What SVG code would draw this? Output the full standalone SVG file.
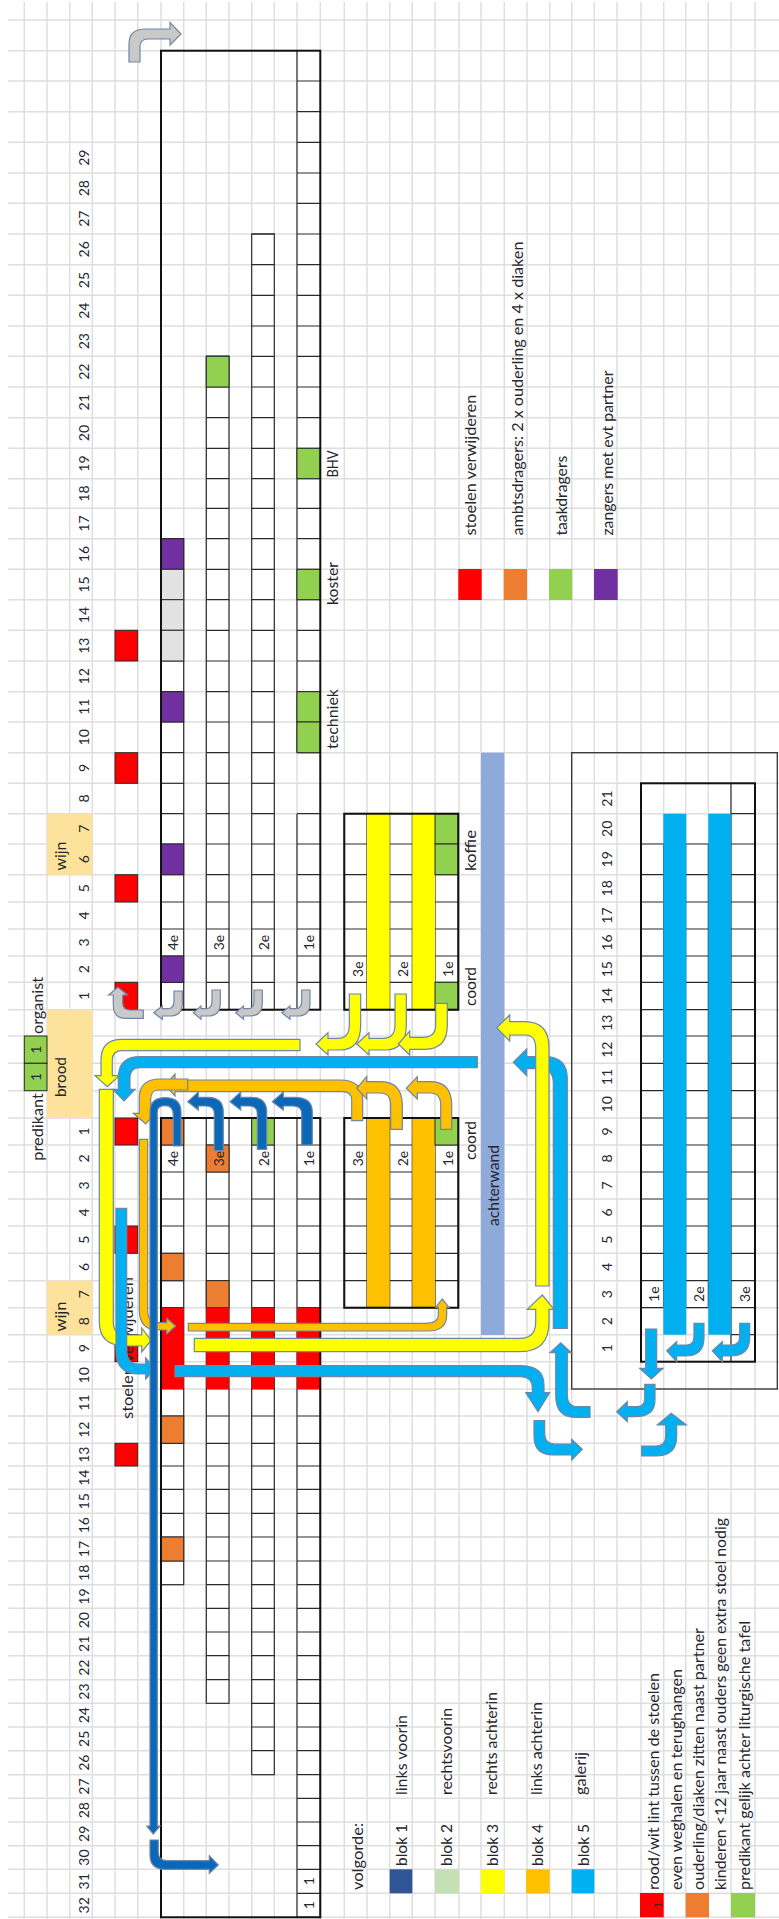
<svg xmlns="http://www.w3.org/2000/svg" width="779" height="1919" viewBox="0 0 779 1919">
<style>
text{font-family:"Lato","Carlito","Liberation Sans",sans-serif;font-size:15px;fill:#26262e}
.n{font-size:14px}
.m{text-anchor:middle}
.grid{fill:none;stroke:#dedede;stroke-width:1.5}
.ln{fill:none;stroke:#2a2a2a;stroke-width:1.2}
.box{fill:#fff;stroke:#2a2a2a;stroke-width:1.2}
.c{stroke:#2a2a2a;stroke-width:1}
.out{fill:none;stroke:#111;stroke-width:2}
.red{fill:#ff0000}.org{fill:#ed7d31}.grn{fill:#92d050}.pur{fill:#7030a0}.gry{fill:#e2e2e2}.pch{fill:#fde29b}
.ar{stroke:#6f86a6;stroke-width:1.2}
.ag{fill:#c9c9c9}.ay{fill:#ffff00}.ab{fill:#00b0f0}.ad{fill:#0b68b8}.ao{fill:#ffc000}
</style>
<defs>
<path id="ta" d="M0 81h23M0 111.7h23M0 142.3h23M0 173h23M0 203.3h23"/>
<path id="tb" d="M0 234h23M0 264.7h23M0 295.3h23M0 326h23"/>
<path id="tc" d="M0 356.3h23M0 387h23M0 417.7h23M0 448.3h23M0 478.7h23M0 508.3h23"/>
<path id="td" d="M0 538.7h23M0 569.3h23M0 599.7h23M0 630.3h23M0 661h23M0 691.7h23M0 722h23M0 752.7h23"/>
<path id="tx" d="M0 783.3h23"/>
<path id="te" d="M0 813.7h23M0 844h23M0 874.7h23M0 902h23M0 929h23M0 956h23M0 982.3h23"/>
<path id="rb" d="M0 844h23M0 874.7h23M0 902h23M0 929h23M0 956h23M0 982.3h23"/>
<path id="rc" d="M0 1145h23M0 1172h23M0 1199h23M0 1226h23M0 1253.3h23M0 1280.7h23"/>
<path id="ba" d="M0 1145h23M0 1172h23M0 1199h23M0 1226h23M0 1253.3h23M0 1280.7h23M0 1307.7h23M0 1334.7h23M0 1361.7h23M0 1389h23M0 1416h23M0 1443.3h23M0 1466h23M0 1489.3h23M0 1513.3h23M0 1537h23M0 1561h23"/>
<path id="bb" d="M0 1584.7h23M0 1608.3h23M0 1632h23M0 1655.7h23M0 1679.7h23"/>
<path id="bc" d="M0 1703.3h23M0 1727h23M0 1750.7h23"/>
<path id="bd" d="M0 1774.7h23M0 1798.3h23M0 1822h23M0 1845.7h23M0 1869.3h23M0 1893.3h23"/>
<path id="ga" d="M0 844h23M0 874.7h23M0 902h23M0 929h23M0 956h23M0 982.3h23M0 1009.7h23M0 1036h23M0 1063.3h23M0 1090.7h23M0 1118h23M0 1145h23M0 1172h23M0 1199h23M0 1226h23M0 1253.3h23M0 1280.7h23"/>
</defs>

<path id="raster" class="grid" d="M24.3 2V1919M47 2V1919M69.7 2V1919M92.3 2V1919M115 2V1919M137.7 2V1919M161 2V1919M183.7 2V1919M206.3 2V1919M229 2V1919M251.7 2V1919M274.3 2V1919M297 2V1919M320.3 2V1919M344.3 2V1919M367 2V1919M389.7 2V1919M412.3 2V1919M435 2V1919M459 2V1919M481 2V1919M504.3 2V1919M527 2V1919M549.7 2V1919M571.7 2V1919M594.3 2V1919M617 2V1919M641 2V1919M663.7 2V1919M685.7 2V1919M708.3 2V1919M731 2V1919M755 2V1919
M8 20H779M8 50.7H779M8 81H779M8 111.7H779M8 142.3H779M8 173H779M8 203.3H779M8 234H779M8 264.7H779M8 295.3H779M8 326H779M8 356.3H779M8 387H779M8 417.7H779M8 448.3H779M8 478.7H779M8 508.3H779M8 538.7H779M8 569.3H779M8 599.7H779M8 630.3H779M8 661H779M8 691.7H779M8 722H779M8 752.7H779M8 783.3H779M8 813.7H779M8 844H779M8 874.7H779M8 902H779M8 929H779M8 956H779M8 982.3H779M8 1009.7H779M8 1036H779M8 1063.3H779M8 1090.7H779M8 1118H779M8 1145H779M8 1172H779M8 1199H779M8 1226H779M8 1253.3H779M8 1280.7H779M8 1307.7H779M8 1334.7H779M8 1361.7H779M8 1389H779M8 1416H779M8 1443.3H779M8 1466H779M8 1489.3H779M8 1513.3H779M8 1537H779M8 1561H779M8 1584.7H779M8 1608.3H779M8 1632H779M8 1655.7H779M8 1679.7H779M8 1703.3H779M8 1727H779M8 1750.7H779M8 1774.7H779M8 1798.3H779M8 1822H779M8 1845.7H779M8 1869.3H779M8 1893.3H779M8 1917.3H779"/>

<g id="labels-voorin">
<rect class="pch" x="47" y="813.7" width="45.3" height="61"/>
<rect class="pch" x="47" y="1009.7" width="45.3" height="108.3"/>
<rect class="pch" x="47" y="1280.7" width="45.3" height="54"/>
<text class="m" transform="translate(66,856) rotate(-90)" textLength="29" lengthAdjust="spacingAndGlyphs">wijn</text>
<text class="m" transform="translate(66,1077) rotate(-90)" textLength="40" lengthAdjust="spacingAndGlyphs">brood</text>
<text class="m" transform="translate(66,1316.5) rotate(-90)" textLength="30" lengthAdjust="spacingAndGlyphs">wijn</text>
<rect class="grn c" x="24.3" y="1036" width="22.7" height="27.3"/>
<rect class="grn c" x="24.3" y="1063.3" width="22.7" height="27.4"/>
<text class="m n" transform="translate(41,1049.7) rotate(-90)">1</text>
<text class="m n" transform="translate(41,1077) rotate(-90)">1</text>
<text transform="translate(43,1034) rotate(-90)" textLength="57" lengthAdjust="spacingAndGlyphs">organist</text>
<text transform="translate(43,1160.7) rotate(-90)" textLength="67.6" lengthAdjust="spacingAndGlyphs">predikant</text>
</g>

<g id="nummers-links" class="n">
<text class="m n" transform="translate(88.5,157.7) rotate(-90)">29</text>
<text class="m n" transform="translate(88.5,188.2) rotate(-90)">28</text>
<text class="m n" transform="translate(88.5,218.7) rotate(-90)">27</text>
<text class="m n" transform="translate(88.5,249.3) rotate(-90)">26</text>
<text class="m n" transform="translate(88.5,280) rotate(-90)">25</text>
<text class="m n" transform="translate(88.5,310.7) rotate(-90)">24</text>
<text class="m n" transform="translate(88.5,341.2) rotate(-90)">23</text>
<text class="m n" transform="translate(88.5,371.7) rotate(-90)">22</text>
<text class="m n" transform="translate(88.5,402.3) rotate(-90)">21</text>
<text class="m n" transform="translate(88.5,433) rotate(-90)">20</text>
<text class="m n" transform="translate(88.5,463.5) rotate(-90)">19</text>
<text class="m n" transform="translate(88.5,493.5) rotate(-90)">18</text>
<text class="m n" transform="translate(88.5,523.5) rotate(-90)">17</text>
<text class="m n" transform="translate(88.5,554) rotate(-90)">16</text>
<text class="m n" transform="translate(88.5,584.5) rotate(-90)">15</text>
<text class="m n" transform="translate(88.5,615) rotate(-90)">14</text>
<text class="m n" transform="translate(88.5,645.7) rotate(-90)">13</text>
<text class="m n" transform="translate(88.5,676.3) rotate(-90)">12</text>
<text class="m n" transform="translate(88.5,706.8) rotate(-90)">11</text>
<text class="m n" transform="translate(88.5,737.3) rotate(-90)">10</text>
<text class="m n" transform="translate(88.5,768) rotate(-90)">9</text>
<text class="m n" transform="translate(88.5,798.5) rotate(-90)">8</text>
<text class="m n" transform="translate(88.5,828.8) rotate(-90)">7</text>
<text class="m n" transform="translate(88.5,859.3) rotate(-90)">6</text>
<text class="m n" transform="translate(88.5,888.3) rotate(-90)">5</text>
<text class="m n" transform="translate(88.5,915.5) rotate(-90)">4</text>
<text class="m n" transform="translate(88.5,942.5) rotate(-90)">3</text>
<text class="m n" transform="translate(88.5,969.2) rotate(-90)">2</text>
<text class="m n" transform="translate(88.5,996) rotate(-90)">1</text>
<text class="m n" transform="translate(88.5,1131.5) rotate(-90)">1</text>
<text class="m n" transform="translate(88.5,1158.5) rotate(-90)">2</text>
<text class="m n" transform="translate(88.5,1185.5) rotate(-90)">3</text>
<text class="m n" transform="translate(88.5,1212.5) rotate(-90)">4</text>
<text class="m n" transform="translate(88.5,1239.7) rotate(-90)">5</text>
<text class="m n" transform="translate(88.5,1267) rotate(-90)">6</text>
<text class="m n" transform="translate(88.5,1294.2) rotate(-90)">7</text>
<text class="m n" transform="translate(88.5,1321.2) rotate(-90)">8</text>
<text class="m n" transform="translate(88.5,1348.2) rotate(-90)">9</text>
<text class="m n" transform="translate(88.5,1375.3) rotate(-90)">10</text>
<text class="m n" transform="translate(88.5,1402.5) rotate(-90)">11</text>
<text class="m n" transform="translate(88.5,1429.7) rotate(-90)">12</text>
<text class="m n" transform="translate(88.5,1454.7) rotate(-90)">13</text>
<text class="m n" transform="translate(88.5,1477.7) rotate(-90)">14</text>
<text class="m n" transform="translate(88.5,1501.3) rotate(-90)">15</text>
<text class="m n" transform="translate(88.5,1525.2) rotate(-90)">16</text>
<text class="m n" transform="translate(88.5,1549) rotate(-90)">17</text>
<text class="m n" transform="translate(88.5,1572.8) rotate(-90)">18</text>
<text class="m n" transform="translate(88.5,1596.5) rotate(-90)">19</text>
<text class="m n" transform="translate(88.5,1620.2) rotate(-90)">20</text>
<text class="m n" transform="translate(88.5,1643.8) rotate(-90)">21</text>
<text class="m n" transform="translate(88.5,1667.7) rotate(-90)">22</text>
<text class="m n" transform="translate(88.5,1691.5) rotate(-90)">23</text>
<text class="m n" transform="translate(88.5,1715.2) rotate(-90)">24</text>
<text class="m n" transform="translate(88.5,1738.8) rotate(-90)">25</text>
<text class="m n" transform="translate(88.5,1762.7) rotate(-90)">26</text>
<text class="m n" transform="translate(88.5,1786.5) rotate(-90)">27</text>
<text class="m n" transform="translate(88.5,1810.2) rotate(-90)">28</text>
<text class="m n" transform="translate(88.5,1833.8) rotate(-90)">29</text>
<text class="m n" transform="translate(88.5,1857.5) rotate(-90)">30</text>
<text class="m n" transform="translate(88.5,1881.3) rotate(-90)">31</text>
<text class="m n" transform="translate(88.5,1905.3) rotate(-90)">32</text>
</g>

<g id="stoelen-verwijderen-kolom">
<rect class="red c" x="115" y="630.3" width="22.7" height="30.7"/>
<rect class="red c" x="115" y="752.7" width="22.7" height="30.6"/>
<rect class="red c" x="115" y="874.7" width="22.7" height="27.3"/>
<rect class="red c" x="115" y="982.3" width="22.7" height="27.4"/>
<rect class="red c" x="115" y="1118" width="22.7" height="27"/>
<rect class="red c" x="115" y="1226" width="22.7" height="27.3"/>
<rect class="red c" x="115" y="1334.7" width="22.7" height="27"/>
<rect class="red c" x="115" y="1443.3" width="22.7" height="22.7"/>
<text transform="translate(133,1419) rotate(-90)" textLength="142" lengthAdjust="spacingAndGlyphs">stoelen verwijderen</text>
</g>

<g id="blok-achterwand">
<rect x="481" y="752.7" width="23.3" height="582.3" fill="#8eaadb"/>
<text transform="translate(499,1226) rotate(-90)" textLength="81" lengthAdjust="spacingAndGlyphs">achterwand</text>
</g>

<g id="hoofdblok-boven">
<rect class="box" x="161" y="538.7" width="22.7" height="471"/>
<use class="ln" href="#td" x="161"/><use class="ln" href="#tx" x="161"/><use class="ln" href="#te" x="161"/>
<rect class="pur c" x="161" y="538.7" width="22.7" height="30.6"/>
<rect class="gry c" x="161" y="569.3" width="22.7" height="30.4"/>
<rect class="gry c" x="161" y="599.7" width="22.7" height="30.6"/>
<rect class="gry c" x="161" y="630.3" width="22.7" height="30.7"/>
<rect class="pur c" x="161" y="691.7" width="22.7" height="30.3"/>
<rect class="pur c" x="161" y="844" width="22.7" height="30.7"/>
<rect class="pur c" x="161" y="956" width="22.7" height="26.3"/>
<text class="m n" transform="translate(178,942.5) rotate(-90)">4e</text>

<rect class="box" x="206.3" y="356.3" width="22.7" height="653.4"/>
<use class="ln" href="#tc" x="206.3"/><use class="ln" href="#td" x="206.3"/><use class="ln" href="#tx" x="206.3"/><use class="ln" href="#te" x="206.3"/>
<rect class="grn c" x="206.3" y="356.3" width="22.7" height="30.7"/>
<text class="m n" transform="translate(224,942.5) rotate(-90)">3e</text>

<rect class="box" x="251.7" y="234" width="22.6" height="775.7"/>
<use class="ln" href="#tb" x="251.7"/><use class="ln" href="#tc" x="251.7"/><use class="ln" href="#td" x="251.7"/><use class="ln" href="#tx" x="251.7"/><use class="ln" href="#te" x="251.7"/>
<text class="m n" transform="translate(269,942.5) rotate(-90)">2e</text>

<rect x="297" y="50.7" width="23.3" height="702" fill="#fff"/>
<rect x="297" y="813.7" width="23.3" height="196" fill="#fff"/>
<path class="ln" d="M297 50.7V752.7M297 813.7V1009.7"/>
<use class="ln" href="#ta" x="297"/><use class="ln" href="#tb" x="297"/><use class="ln" href="#tc" x="297"/><use class="ln" href="#td" x="297"/><use class="ln" href="#te" x="297"/>
<rect class="grn c" x="297" y="448.3" width="23.3" height="30.4"/>
<rect class="grn c" x="297" y="569.3" width="23.3" height="30.4"/>
<rect class="grn c" x="297" y="691.7" width="23.3" height="30.3"/>
<rect class="grn c" x="297" y="722" width="23.3" height="30.7"/>
<text class="m n" transform="translate(314,942.5) rotate(-90)">1e</text>
<rect class="out" x="161" y="50.7" width="159.3" height="959"/>
<text class="m" transform="translate(338,464) rotate(-90)" textLength="27" lengthAdjust="spacingAndGlyphs">BHV</text>
<text class="m" transform="translate(338,583.5) rotate(-90)" textLength="43" lengthAdjust="spacingAndGlyphs">koster</text>
<text class="m" transform="translate(338,719) rotate(-90)" textLength="60" lengthAdjust="spacingAndGlyphs">techniek</text>
</g>

<g id="hoofdblok-onder">
<rect class="box" x="161" y="1118" width="22.7" height="466.7"/>
<use class="ln" href="#ba" x="161"/>
<rect class="org c" x="161" y="1118" width="22.7" height="27"/>
<rect class="org c" x="161" y="1253.3" width="22.7" height="27.4"/>
<rect class="org c" x="161" y="1416" width="22.7" height="27.3"/>
<rect class="org c" x="161" y="1537" width="22.7" height="24"/>
<text class="m n" transform="translate(178,1158.5) rotate(-90)">4e</text>

<rect class="box" x="206.3" y="1118" width="22.7" height="585.3"/>
<use class="ln" href="#ba" x="206.3"/><use class="ln" href="#bb" x="206.3"/>
<rect class="org c" x="206.3" y="1145" width="22.7" height="27"/>
<rect class="org c" x="206.3" y="1280.7" width="22.7" height="27"/>
<text class="m n" transform="translate(224,1158.5) rotate(-90)">3e</text>

<rect class="box" x="251.7" y="1118" width="22.6" height="656.7"/>
<use class="ln" href="#ba" x="251.7"/><use class="ln" href="#bb" x="251.7"/><use class="ln" href="#bc" x="251.7"/>
<rect class="grn c" x="251.7" y="1118" width="22.6" height="27"/>
<text class="m n" transform="translate(269,1158.5) rotate(-90)">2e</text>

<rect class="box" x="297" y="1118" width="23.3" height="799.3"/>
<use class="ln" href="#ba" x="297"/><use class="ln" href="#bb" x="297"/><use class="ln" href="#bc" x="297"/><use class="ln" href="#bd" x="297"/>
<text class="m n" transform="translate(314,1158.5) rotate(-90)">1e</text>
<text class="m n" transform="translate(314,1881.3) rotate(-90)">1</text>
<text class="m n" transform="translate(314,1905.3) rotate(-90)">1</text>

<rect class="red" x="161" y="1307.7" width="22.7" height="81.3"/>
<rect class="red" x="206.3" y="1307.7" width="22.7" height="81.3"/>
<rect class="red" x="251.7" y="1307.7" width="22.6" height="81.3"/>
<rect class="red" x="297" y="1307.7" width="23.3" height="81.3"/>
<rect class="out" x="161" y="1118" width="159.3" height="799.3"/>
</g>

<g id="rechts-achterin">
<rect class="box" x="344.3" y="813.7" width="114" height="196"/>
<use class="ln" href="#rb" x="344.3"/><use class="ln" href="#rb" x="389.7"/><use class="ln" href="#rb" x="435"/>
<path class="ln" d="M367 813.7V1009.7M389.7 813.7V1009.7M412.3 813.7V1009.7M435 813.7V1009.7"/>
<rect x="367" y="813.7" width="22.7" height="196" fill="#ffff00"/>
<rect x="412.3" y="813.7" width="22.7" height="196" fill="#ffff00"/>
<rect class="grn c" x="435" y="813.7" width="23.3" height="30.3"/>
<rect class="grn c" x="435" y="844" width="23.3" height="30.7"/>
<rect class="grn c" x="435" y="982.3" width="23.3" height="27.4"/>
<rect class="out" x="344.3" y="813.7" width="114" height="196"/>
<text class="m n" transform="translate(363,969.2) rotate(-90)">3e</text>
<text class="m n" transform="translate(408,969.2) rotate(-90)">2e</text>
<text class="m n" transform="translate(453,969.2) rotate(-90)">1e</text>
<text class="m" transform="translate(476,850.5) rotate(-90)" textLength="41" lengthAdjust="spacingAndGlyphs">koffie</text>
<text class="m" transform="translate(476,986.5) rotate(-90)" textLength="39" lengthAdjust="spacingAndGlyphs">coord</text>
</g>

<g id="links-achterin">
<rect class="box" x="344.3" y="1118" width="114" height="189.7"/>
<use class="ln" href="#rc" x="344.3"/><use class="ln" href="#rc" x="389.7"/><use class="ln" href="#rc" x="435"/>
<path class="ln" d="M367 1118V1307.7M389.7 1118V1307.7M412.3 1118V1307.7M435 1118V1307.7"/>
<rect x="367" y="1118" width="22.7" height="189.7" fill="#ffc000"/>
<rect x="412.3" y="1118" width="22.7" height="189.7" fill="#ffc000"/>
<rect class="grn c" x="435" y="1118" width="23.3" height="27"/>
<rect class="out" x="344.3" y="1118" width="114" height="189.7"/>
<text class="m n" transform="translate(363,1158.5) rotate(-90)">3e</text>
<text class="m n" transform="translate(408,1158.5) rotate(-90)">2e</text>
<text class="m n" transform="translate(453,1158.5) rotate(-90)">1e</text>
<text class="m" transform="translate(476,1140.5) rotate(-90)" textLength="39" lengthAdjust="spacingAndGlyphs">coord</text>
</g>

<g id="galerij">
<rect x="571.7" y="752.7" width="205.6" height="636.3" fill="none" stroke="#333" stroke-width="1.3"/>
<text class="m n" transform="translate(612,798.5) rotate(-90)">21</text>
<text class="m n" transform="translate(612,828.8) rotate(-90)">20</text>
<text class="m n" transform="translate(612,859.3) rotate(-90)">19</text>
<text class="m n" transform="translate(612,888.3) rotate(-90)">18</text>
<text class="m n" transform="translate(612,915.5) rotate(-90)">17</text>
<text class="m n" transform="translate(612,942.5) rotate(-90)">16</text>
<text class="m n" transform="translate(612,969.2) rotate(-90)">15</text>
<text class="m n" transform="translate(612,996) rotate(-90)">14</text>
<text class="m n" transform="translate(612,1022.8) rotate(-90)">13</text>
<text class="m n" transform="translate(612,1049.7) rotate(-90)">12</text>
<text class="m n" transform="translate(612,1077) rotate(-90)">11</text>
<text class="m n" transform="translate(612,1104.3) rotate(-90)">10</text>
<text class="m n" transform="translate(612,1131.5) rotate(-90)">9</text>
<text class="m n" transform="translate(612,1158.5) rotate(-90)">8</text>
<text class="m n" transform="translate(612,1185.5) rotate(-90)">7</text>
<text class="m n" transform="translate(612,1212.5) rotate(-90)">6</text>
<text class="m n" transform="translate(612,1239.7) rotate(-90)">5</text>
<text class="m n" transform="translate(612,1267) rotate(-90)">4</text>
<text class="m n" transform="translate(612,1294.2) rotate(-90)">3</text>
<text class="m n" transform="translate(612,1321.2) rotate(-90)">2</text>
<text class="m n" transform="translate(612,1348.2) rotate(-90)">1</text>
<rect x="641" y="844" width="22.7" height="463.7" fill="#fff"/>
<rect x="685.7" y="844" width="22.6" height="463.7" fill="#fff"/>
<rect x="731" y="783.3" width="24" height="578.4" fill="#fff"/>
<use class="ln" href="#ga" x="641"/><use class="ln" href="#ga" x="685.7"/><use class="ln" href="#ga" x="731"/>
<path class="ln" d="M731 813.7h24M731 1307.7h24M731 1334.7h24M731 783.3V1361.7M685.7 844V1307.7M708.3 844V1307.7M663.7 844V1307.7M641 1307.7h23M685.7 1307.7h23"/>
<rect x="663.3" y="813.7" width="23" height="521" fill="#00b0f0"/>
<rect x="708.3" y="813.7" width="22.7" height="521" fill="#00b0f0"/>
<rect class="out" x="641" y="783.3" width="114" height="578.4"/>
<text class="m n" transform="translate(659,1294.2) rotate(-90)">1e</text>
<text class="m n" transform="translate(704,1294.2) rotate(-90)">2e</text>
<text class="m n" transform="translate(750,1294.2) rotate(-90)">3e</text>
</g>

<g id="legenda-boven">
<rect class="red" x="458.3" y="569" width="23.4" height="31"/>
<rect class="org" x="503.7" y="569" width="23.3" height="31"/>
<rect class="grn" x="549" y="569" width="23.3" height="31"/>
<rect class="pur" x="594" y="569" width="23.7" height="31"/>
<text transform="translate(476,535.6) rotate(-90)" textLength="141" lengthAdjust="spacingAndGlyphs">stoelen verwijderen</text>
<text transform="translate(523,535.6) rotate(-90)" textLength="294" lengthAdjust="spacingAndGlyphs">ambtsdragers: 2 x ouderling en 4 x diaken</text>
<text transform="translate(567,535.6) rotate(-90)" textLength="80" lengthAdjust="spacingAndGlyphs">taakdragers</text>
<text transform="translate(613,535.6) rotate(-90)" textLength="165" lengthAdjust="spacingAndGlyphs">zangers met evt partner</text>
</g>

<g id="legenda-volgorde">
<text transform="translate(363,1890) rotate(-90)" textLength="67" lengthAdjust="spacingAndGlyphs">volgorde:</text>
<rect x="389.7" y="1869.3" width="22.6" height="24" fill="#2f5597"/>
<rect x="435" y="1869.3" width="24" height="24" fill="#c5e0b4"/>
<rect x="481" y="1869.3" width="23.3" height="24" fill="#ffff00"/>
<rect x="526" y="1869.3" width="23.7" height="24" fill="#ffc000"/>
<rect x="571.7" y="1869.3" width="22.6" height="24" fill="#00b0f0"/>
<text transform="translate(407,1866) rotate(-90)" textLength="42" lengthAdjust="spacingAndGlyphs">blok 1</text>
<text transform="translate(452,1866) rotate(-90)" textLength="42" lengthAdjust="spacingAndGlyphs">blok 2</text>
<text transform="translate(498,1866) rotate(-90)" textLength="42" lengthAdjust="spacingAndGlyphs">blok 3</text>
<text transform="translate(543,1866) rotate(-90)" textLength="42" lengthAdjust="spacingAndGlyphs">blok 4</text>
<text transform="translate(589,1866) rotate(-90)" textLength="42" lengthAdjust="spacingAndGlyphs">blok 5</text>
<text transform="translate(407,1795) rotate(-90)" textLength="80" lengthAdjust="spacingAndGlyphs">links voorin</text>
<text transform="translate(452,1795) rotate(-90)" textLength="87" lengthAdjust="spacingAndGlyphs">rechtsvoorin</text>
<text transform="translate(497,1795) rotate(-90)" textLength="103" lengthAdjust="spacingAndGlyphs">rechts achterin</text>
<text transform="translate(542,1795) rotate(-90)" textLength="93" lengthAdjust="spacingAndGlyphs">links achterin</text>
<text transform="translate(586,1795) rotate(-90)" textLength="43" lengthAdjust="spacingAndGlyphs">galerij</text>
</g>

<g id="legenda-onder">
<rect class="red" x="640" y="1893" width="23.7" height="24.3"/>
<text class="m" transform="translate(662,1905) rotate(-90)" style="font-size:12px;fill:#5a2020">1</text>
<rect class="org" x="685.7" y="1893" width="23.3" height="24.3"/>
<rect class="grn" x="731" y="1893" width="24" height="24.3"/>
<text transform="translate(659,1890) rotate(-90)" textLength="217" lengthAdjust="spacingAndGlyphs">rood/wit lint tussen de stoelen</text>
<text transform="translate(682,1890) rotate(-90)" textLength="221" lengthAdjust="spacingAndGlyphs">even weghalen en terughangen</text>
<text transform="translate(704,1890) rotate(-90)" textLength="262" lengthAdjust="spacingAndGlyphs">ouderling/diaken zitten naast partner</text>
<text transform="translate(726,1890) rotate(-90)" textLength="372" lengthAdjust="spacingAndGlyphs">kinderen &lt;12 jaar naast ouders geen extra stoel nodig</text>
<text transform="translate(750,1890) rotate(-90)" textLength="269" lengthAdjust="spacingAndGlyphs">predikant gelijk achter liturgische tafel</text>
</g>

<g id="connectors">
<path class="ar ag" d="M129 62V44Q129 29 145 29H170V22.5L181 34L170 45V39H148Q140 39 140 47V62Z"/>
<path class="ar ag" d="M174 991H182.3V1003Q182.3 1016 170 1016H162.3V1019.3L153.7 1012.7L162.3 1006V1008.7H168Q174 1008.7 174 1001Z"/>
<path class="ar ag" d="M212 990H220.3V1003Q220.3 1016 208 1016H201V1019.3L193.3 1012.7L201 1006V1008.7H206Q212 1008.7 212 1001Z"/>
<path class="ar ag" d="M254 990H262.3V1003Q262.3 1016 250 1016H243.5V1019.3L235.7 1012.7L243.5 1006V1008.7H248Q254 1008.7 254 1001Z"/>
<path class="ar ag" d="M301.7 990H310V1003Q310 1016 297.7 1016H290V1019.3L281.7 1012.7L290 1006V1008.7H295.7Q301.7 1008.7 301.7 1001Z"/>
<path class="ar ag" d="M143.3 1010V1018.3H125Q113.3 1018.3 113.3 1005V995H108.5L118 987.3L127.5 995H122.7V1003Q122.7 1010 130 1010Z"/>

<path class="ar ay" d="M349.3 994H360.7V1025Q360.7 1050 340 1050H328V1055L316 1044L328 1032.7V1038.3H338Q349.3 1038.3 349.3 1025Z"/>
<path class="ar ay" d="M395 994H406.3V1025Q406.3 1050 385 1050H369V1055L356.7 1044L369 1032.7V1038.3H383Q395 1038.3 395 1025Z"/>
<path class="ar ay" d="M435.7 1003.3H447.3V1025Q447.3 1049.3 425 1049.3H409.7V1055L398.3 1044L409.7 1031V1037.3H423Q435.7 1037.3 435.7 1025Z"/>
<path class="ar ay" d="M300 1039.3V1050.7H122Q112.3 1050.7 112.3 1060V1075.7H119.3L107.3 1086.7L95 1075.7H101V1060Q101 1039.3 122 1039.3Z"/>
<path class="ar ay" d="M99.3 1089.3H113.3V1322Q113.3 1335 126 1335H141.7V1328L151 1340.5L141.7 1352V1346H126Q99.3 1346 99.3 1322Z"/>

<path class="ar ab" d="M477.3 1056.7V1067.7H140Q130 1067.7 130 1078V1089.3H135L124 1101L112.7 1089.3H118.3V1078Q118.3 1056.7 140 1056.7Z"/>
<path class="ar ab" d="M116 1208.3H126.7V1350Q126.7 1364 138 1364H145.7V1358L155 1369L145.7 1379V1374H138Q116 1374 116 1350Z"/>
<path class="ar ab" d="M553.3 1328.3V1083Q553.3 1068.7 540 1068.7H526.7V1075.7L513.3 1062.3L526.7 1049V1056.7H545Q567.3 1056.7 567.3 1079V1328.3Z"/>

<path class="ar ao" d="M351.7 1120.7V1100Q351.7 1091.7 342 1091.7H175V1096L165 1085L175 1074V1080H340Q362.7 1080 362.7 1100V1120.7Z"/>
<path class="ar ao" d="M187.7 1079V1090H158Q150.7 1090 150.7 1100V1113.3H155L145.7 1124L133.3 1113.3H139.3V1098Q139.3 1079 160 1079Z"/>
<path class="ar ao" d="M390.7 1129.3V1105Q390.7 1093 380 1093H366.7V1099L356.7 1088.3L366.7 1076.7V1081.7H380Q402.3 1081.7 402.3 1105V1129.3Z"/>
<path class="ar ao" d="M440.7 1129.3V1105Q440.7 1093 430 1093H417.3V1099L406.3 1088.3L417.3 1076.7V1081.7H430Q451.7 1081.7 451.7 1105V1129.3Z"/>
<path class="ar ao" d="M139.3 1139.3H147.7V1310Q147.7 1322.7 158 1322.7H166.7V1318.3L175.7 1326L166.7 1334V1330H158Q139.3 1330 139.3 1310Z"/>
<path class="ar ao" d="M188.3 1323.3H425Q438.3 1323.3 438.3 1315V1307.3H435.7L442.3 1299L449 1307.3H446.7V1315Q446.7 1331 428 1331H188.3Z"/>

<path class="ar ay" d="M194.3 1338.3H520Q535.7 1338.3 535.7 1322V1309.3H527.3L542.3 1295L554 1309.3H549V1322Q549 1351.7 520 1351.7H194.3Z"/>
<path class="ar ay" d="M549 1286V1048Q549 1021.7 525 1021.7H509.7V1015L496.7 1027.7L509.7 1041V1035H525Q535.7 1035 535.7 1048V1286Z"/>

<path class="ar ab" d="M175 1365.7H520Q544 1365.7 544 1385V1392.7H549.7L538 1411.7L525.7 1392.7H532.3V1388Q532.3 1376.7 520 1376.7H175Z"/>
<path class="ar ab" d="M590 1406.7V1417.3H575Q555.7 1417.3 555.7 1395V1352.7H550L560.7 1342.7L571.3 1352.7H567.3V1395Q567.3 1406.7 578 1406.7Z"/>
<path class="ar ab" d="M534 1420.7H544.7V1434Q544.7 1444 555 1444H571.7V1439.3L582.3 1449.3L571.7 1460V1455H553Q534 1455 534 1436Z"/>
<path class="ar ab" d="M641.7 1446H656Q665.7 1446 665.7 1436V1425H657.3L671.3 1413.3L686.3 1425H676.7V1436Q676.7 1456 656 1456H641.7Z"/>
<path class="ar ab" d="M644.7 1384.3H655V1400Q655 1416.7 635 1416.7H627.3V1421.7L616.7 1411.7L627.3 1401.7V1406.7H637Q644.7 1406.7 644.7 1398Z"/>
<path class="ar ab" d="M645.7 1329H656.7V1368.3H663L651.3 1379L639.7 1368.3H645.7Z"/>
<path class="ar ab" d="M694 1323.3H704V1338Q704 1356 685 1356H676.7V1361.7L666.7 1350.7L676.7 1341.7V1345H687Q694 1345 694 1336Z"/>
<path class="ar ab" d="M739.7 1323.3H749.7V1338Q749.7 1356 730 1356H722.3V1361.7L712.3 1350.7L722.3 1341.7V1345H732Q739.7 1345 739.7 1336Z"/>

<path class="ar ad" d="M181 1146V1112Q181 1097.7 165 1097.7Q150 1097.7 150 1112V1826H146.7L153.3 1834L160 1826H157.3V1112Q157.3 1105.7 165 1105.7Q173.3 1105.7 173.3 1115V1146Z"/>
<path class="ar ad" d="M150 1840H158.3V1852Q158.3 1860.7 167 1860.7H209.3V1855.7L218.3 1865L209.3 1873.3V1869.3H165Q150 1869.3 150 1855Z"/>
<path class="ar ad" d="M214.3 1150.7V1114Q214.3 1106 206 1106H198.3V1110L187.7 1101.7L198.3 1092V1097.3H208Q223.3 1097.3 223.3 1112V1150.7Z"/>
<path class="ar ad" d="M257.3 1149.3V1114Q257.3 1106 249 1106H240.7V1110L230 1101.7L240.7 1092V1097.3H251Q266.7 1097.3 266.7 1112V1149.3Z"/>
<path class="ar ad" d="M301.7 1145V1114Q301.7 1106 293 1106H283.3V1110L272.3 1101.7L283.3 1092V1097.3H295Q312.3 1097.3 312.3 1112V1145Z"/>
</g>
</svg>
